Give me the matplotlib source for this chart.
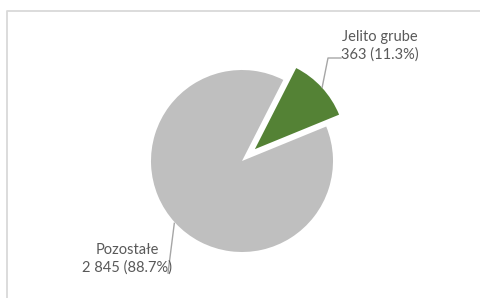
import numpy as np
import matplotlib.pyplot as plt

# data
labels = ['Jelito grube', 'Pozostałe']
values = [363, 2845]
shares = [11.3, 88.7]
colors = ['#548235', '#BFBFBF']

W, H = 480, 298
fig = plt.figure(figsize=[W / 100, H / 100], dpi=100)
ax = fig.add_axes([0, 0, 1, 1])
ax.set_aspect('equal')
ax.axis('off')

# chart frame (only top and left visible in crop)
ax.plot([6.5, 6.5, W + 5], [-5, H - 10.5, H - 10.5], color='#D9D9D9', lw=1.3)

cx, cy, r = 242, 137, 91
start = 63.0
wedges, _ = ax.pie(values, colors=colors, startangle=start, counterclock=False,
                   explode=[17.5, 0], center=(cx, cy), radius=r,
                   wedgeprops=dict(linewidth=0))
ax.set_xlim(0, W)
ax.set_ylim(0, H)

def fmt(v):
    return f"{v:,}".replace(',', ' ')

txt = dict(color='#595959', fontsize=10.5, family=['Lato', 'DejaVu Sans'],
           ha='center', va='center', linespacing=1.35)
lc = '#A6A6A6'

# leader for Jelito grube: from arc midpoint of exploded wedge
w = wedges[0]
mid = np.deg2rad((w.theta1 + w.theta2) / 2)
x0 = w.center[0] + (r + 0.5) * np.cos(mid)
y0 = w.center[1] + (r + 0.5) * np.sin(mid)
ax.plot([x0, 328, 341], [y0, H - 58, H - 58], color=lc, lw=1)
ax.text(380, H - 46, f"{labels[0]}\n{fmt(values[0])} ({shares[0]}%)", **txt)

# leader for Pozostałe
w = wedges[1]
mid = np.deg2rad((w.theta1 + w.theta2) / 2)
x0 = w.center[0] + (r + 1) * np.cos(mid)
y0 = w.center[1] + (r + 1) * np.sin(mid)
ax.plot([x0, 168], [y0, H - 273], color=lc, lw=1)
ax.text(127, H - 259, f"{labels[1]}\n{fmt(values[1])} ({shares[1]}%)", **txt)

fig.savefig('out.png', dpi=100)
